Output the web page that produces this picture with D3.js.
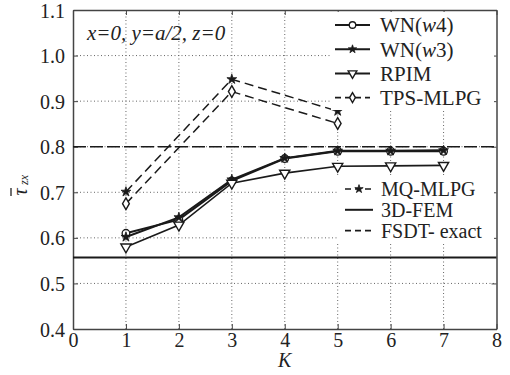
<!DOCTYPE html>
<html>
<head>
<meta charset="utf-8">
<script src="https://cdn.jsdelivr.net/npm/d3@7"></script>
<style>
  body { margin: 0; background: #fff; }
  text { font-family: "Liberation Serif", "Times New Roman", serif; fill: #222; }
</style>
</head>
<body>
<svg id="chart" width="510" height="375"></svg>
<script>
/** ------------- DATA -------------- */
const kAll = [1, 2, 3, 4, 5, 6, 7];
const kMlpg = [1, 3, 5];
const wnW4 = [0.610, 0.640, 0.725, 0.774, 0.790, 0.790, 0.790];
const wnW3 = [0.602, 0.645, 0.728, 0.775, 0.791, 0.791, 0.792];
const rpim = [0.580, 0.628, 0.720, 0.742, 0.757, 0.758, 0.759];
const tpsMlpg = [0.675, 0.921, 0.851];
const mqMlpg = [0.701, 0.948, 0.878];
const fem3d = 0.557;
const fsdtExact = 0.800;
const xTicks = [0, 1, 2, 3, 4, 5, 6, 7, 8];
const yTicks = [0.4, 0.5, 0.6, 0.7, 0.8, 0.9, 1.0, 1.1];

const svg = d3.select("#chart");
const m = { left: 73, right: 13.5, top: 10, bottom: 46 };
const W = 510, H = 375;
const x = d3.scaleLinear().domain([0, 8]).range([m.left, W - m.right]);
const y = d3.scaleLinear().domain([0.4, 1.1]).range([H - m.bottom, m.top]);

const ink = "#1a1a1a";

/** grid */
const grid = svg.append("g").attr("stroke", "#666").attr("stroke-width", 1)
    .attr("stroke-dasharray", "1,2.5");
grid.selectAll(".gx").data(xTicks.slice(1, -1)).join("line")
    .attr("x1", d => x(d)).attr("x2", d => x(d))
    .attr("y1", y(0.4)).attr("y2", y(1.1));
grid.selectAll(".gy").data(yTicks.slice(1, -1)).join("line")
    .attr("x1", x(0)).attr("x2", x(8))
    .attr("y1", d => y(d)).attr("y2", d => y(d));

/** axes with inward ticks on all sides */
const fmt = d3.format(".1f");
const axBottom = svg.append("g").attr("transform", `translate(0,${y(0.4)})`)
    .call(d3.axisBottom(x).tickValues(xTicks).tickSizeInner(-5).tickSizeOuter(0).tickPadding(4));
const axLeft = svg.append("g").attr("transform", `translate(${x(0)},0)`)
    .call(d3.axisLeft(y).tickValues(yTicks).tickFormat(fmt).tickSizeInner(-5).tickSizeOuter(0).tickPadding(8));
const axTop = svg.append("g").attr("transform", `translate(0,${y(1.1)})`)
    .call(d3.axisTop(x).tickValues(xTicks).tickSizeInner(-5).tickSizeOuter(0).tickFormat(""));
const axRight = svg.append("g").attr("transform", `translate(${x(8)},0)`)
    .call(d3.axisRight(y).tickValues(yTicks).tickSizeInner(-5).tickSizeOuter(0).tickFormat(""));
[axBottom, axLeft, axTop, axRight].forEach(g => {
    g.select(".domain").attr("stroke", "#444").attr("stroke-width", 1.5);
    g.selectAll(".tick line").attr("stroke", "#444");
    g.selectAll("text").attr("font-size", 20).attr("fill", "#222")
        .attr("font-family", "Liberation Serif, serif");
});
axLeft.selectAll("text").attr("dy", "0.35em");
axBottom.selectAll("text").attr("dy", "0.71em");

/** reference lines */
svg.append("line").attr("x1", x(0)).attr("x2", x(8))
    .attr("y1", y(fsdtExact)).attr("y2", y(fsdtExact))
    .attr("stroke", ink).attr("stroke-width", 1.6).attr("stroke-dasharray", "13,4");
svg.append("line").attr("x1", x(0)).attr("x2", x(8))
    .attr("y1", y(fem3d)).attr("y2", y(fem3d))
    .attr("stroke", ink).attr("stroke-width", 2);

/** series */
const series = [
    { name: "WN(w4)", ks: kAll, vals: wnW4, dash: null, sym: "circle", w: 2 },
    { name: "WN(w3)", ks: kAll, vals: wnW3, dash: null, sym: "star", w: 2 },
    { name: "RPIM", ks: kAll, vals: rpim, dash: null, sym: "tri", w: 1.6 },
    { name: "TPS-MLPG", ks: kMlpg, vals: tpsMlpg, dash: "9,5", sym: "diamond", w: 1.5 },
    { name: "MQ-MLPG", ks: kMlpg, vals: mqMlpg, dash: "9,5", sym: "star", w: 1.5 },
];

const line = d3.line().x(d => x(d[0])).y(d => y(d[1]));

/**
 * Draw one marker at (cx, cy).
 */
function marker(g, sym, cx, cy, scale) {
    const s = scale || 1;
    if (sym === "circle") {
        g.append("circle").attr("cx", cx).attr("cy", cy).attr("r", 3.8 * s)
            .attr("fill", "#fff").attr("stroke", ink).attr("stroke-width", 1.3);
    } else if (sym === "star") {
        g.append("path").attr("d", d3.symbol(d3.symbolStar, 30 * s * s)())
            .attr("transform", `translate(${cx},${cy})`)
            .attr("fill", ink).attr("stroke", ink).attr("stroke-width", 0.8);
    } else if (sym === "tri") {
        g.append("path").attr("d", d3.symbol(d3.symbolTriangle, 45 * s * s)())
            .attr("transform", `translate(${cx},${cy}) rotate(180)`)
            .attr("fill", "#fff").attr("stroke", ink).attr("stroke-width", 1.4);
    } else if (sym === "diamond") {
        g.append("path").attr("d", d3.symbol(d3.symbolDiamond, 40 * s * s)())
            .attr("transform", `translate(${cx},${cy})`)
            .attr("fill", "#fff").attr("stroke", ink).attr("stroke-width", 1.4);
    }
}

series.forEach(s => {
    const pts = s.ks.map((k, i) => [k, s.vals[i]]);
    svg.append("path").datum(pts).attr("d", line)
        .attr("fill", "none").attr("stroke", ink).attr("stroke-width", s.w)
        .attr("stroke-dasharray", s.dash);
    const g = svg.append("g");
    pts.forEach(p => marker(g, s.sym, x(p[0]), y(p[1])));
});

/** legends */
function legend(items, bx, by, bw, bh, rowH, lx1, lx2, tx, fs) {
    const g = svg.append("g");
    g.append("rect").attr("x", bx).attr("y", by).attr("width", bw).attr("height", bh).attr("fill", "#fff");
    items.forEach((it, i) => {
        const cy = by + 13 + i * rowH;
        g.append("line").attr("x1", lx1).attr("x2", lx2).attr("y1", cy).attr("y2", cy)
            .attr("stroke", ink).attr("stroke-width", it.w).attr("stroke-dasharray", it.dash);
        if (it.sym) marker(g, it.sym, (lx1 + lx2) / 2, cy, 0.85);
        const t = g.append("text").attr("x", tx).attr("y", cy).attr("dy", "0.35em")
            .attr("font-size", fs);
        if (it.ital) {
            t.append("tspan").text(it.ital[0]);
            t.append("tspan").attr("font-style", "italic").text(it.ital[1]);
            t.append("tspan").text(it.ital[2]);
        } else {
            t.text(it.name);
        }
    });
}
legend([
    { name: "WN(w4)", ital: ["WN(", "w", "4)"], sym: "circle", w: 2 },
    { name: "WN(w3)", ital: ["WN(", "w", "3)"], sym: "star", w: 2 },
    { name: "RPIM", sym: "tri", w: 2 },
    { name: "TPS-MLPG", sym: "diamond", w: 1.6, dash: "6,4" },
], 331, 12, 163, 98, 24.2, 335, 370, 380, 21);
legend([
    { name: "MQ-MLPG", sym: "star", w: 1.6, dash: "6,4" },
    { name: "3D-FEM", w: 2 },
    { name: "FSDT- exact", w: 1.6, dash: "6,4" },
], 337, 176, 157, 66, 20.8, 345, 373, 381, 20);

/** annotation */
svg.append("text").attr("x", 87).attr("y", 40).attr("font-size", 21)
    .attr("font-style", "italic").text("x=0, y=a/2, z=0");

/** axis labels */
svg.append("text").attr("x", x(4)).attr("y", 367).attr("text-anchor", "middle")
    .attr("font-size", 20).attr("font-style", "italic").text("K");
const yl = svg.append("g").attr("transform", "translate(21,186) rotate(-90)");
yl.append("text").attr("x", -6).attr("y", 0).attr("dy", "0.3em")
    .attr("text-anchor", "middle").attr("font-size", 20).attr("font-style", "italic").text("τ");
yl.append("text").attr("x", 1).attr("y", 7).attr("font-size", 12)
    .attr("font-style", "italic").text("zx");
yl.append("line").attr("x1", -10).attr("x2", -2).attr("y1", -10).attr("y2", -10)
    .attr("stroke", "#222").attr("stroke-width", 1.3);
</script>
</body>
</html>
